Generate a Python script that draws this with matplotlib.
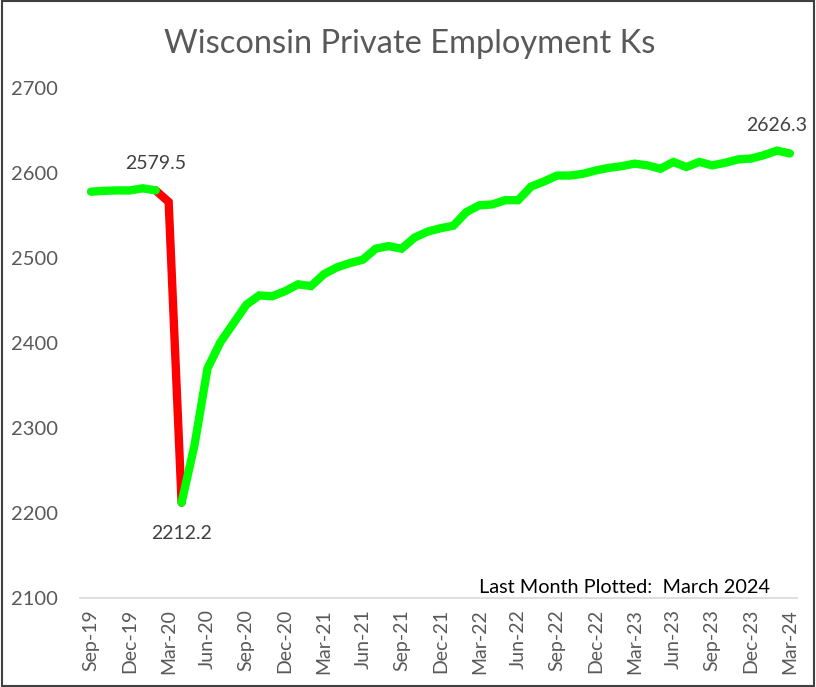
import matplotlib.pyplot as plt
from matplotlib.patches import Rectangle

# Monthly private employment (thousands), Sep-2019 .. Mar-2024
months = ['Sep-19', 'Oct-19', 'Nov-19', 'Dec-19', 'Jan-20', 'Feb-20', 'Mar-20', 'Apr-20',
          'May-20', 'Jun-20', 'Jul-20', 'Aug-20', 'Sep-20', 'Oct-20', 'Nov-20', 'Dec-20',
          'Jan-21', 'Feb-21', 'Mar-21', 'Apr-21', 'May-21', 'Jun-21', 'Jul-21', 'Aug-21',
          'Sep-21', 'Oct-21', 'Nov-21', 'Dec-21', 'Jan-22', 'Feb-22', 'Mar-22', 'Apr-22',
          'May-22', 'Jun-22', 'Jul-22', 'Aug-22', 'Sep-22', 'Oct-22', 'Nov-22', 'Dec-22',
          'Jan-23', 'Feb-23', 'Mar-23', 'Apr-23', 'May-23', 'Jun-23', 'Jul-23', 'Aug-23',
          'Sep-23', 'Oct-23', 'Nov-23', 'Dec-23', 'Jan-24', 'Feb-24', 'Mar-24']
employment = [2578, 2579, 2579.5, 2579.5, 2582, 2579.5, 2566, 2212.2,
              2280, 2370, 2401, 2423, 2445, 2456, 2455, 2461,
              2469, 2467, 2481, 2489, 2494, 2498, 2511, 2514,
              2511, 2524, 2531, 2535, 2538, 2554, 2562, 2563,
              2568, 2568, 2584, 2590, 2597, 2597, 2599, 2603,
              2606, 2608, 2611, 2609, 2605, 2613, 2607, 2613,
              2609, 2612, 2616, 2617, 2621, 2626.3, 2623]

# Covid drop highlighted in red (Feb-20 -> Apr-20)
drop_start = 5
drop_end = 7

tick_idx = list(range(0, len(months), 3))
yticks = [2100, 2200, 2300, 2400, 2500, 2600, 2700]

plt.rcParams['font.family'] = ['Lato', 'DejaVu Sans']

fig = plt.figure(figsize=(8.16, 6.87), dpi=100)
ax = fig.add_axes([80 / 816, 1 - 598 / 687, 717 / 816, 510 / 687])

x = list(range(len(months)))

# red segment first, green on top
ax.plot(x[drop_start:drop_end + 1], employment[drop_start:drop_end + 1],
        color='#FF0000', lw=6, solid_capstyle='round', solid_joinstyle='miter', zorder=2)
ax.plot(x[:drop_start + 1], employment[:drop_start + 1],
        color='#00FF00', lw=6, solid_capstyle='round', solid_joinstyle='miter', zorder=3)
ax.plot(x[drop_end:], employment[drop_end:],
        color='#00FF00', lw=6, solid_capstyle='round', solid_joinstyle='miter', zorder=3)

# data labels
ax.annotate(f'{employment[5]:.1f}', (x[5], employment[5]), xytext=(0, 13),
            textcoords='offset points', ha='center', va='bottom', fontsize=14, color='#404040')
ax.annotate(f'{employment[7]:.1f}', (x[7], employment[7]), xytext=(0, -16),
            textcoords='offset points', ha='center', va='top', fontsize=14, color='#404040')
ax.annotate(f'{employment[53]:.1f}', (x[53], employment[53]), xytext=(0, 12),
            textcoords='offset points', ha='center', va='bottom', fontsize=14, color='#404040')

ax.set_xlim(-0.85, 54.55)
ax.set_ylim(2100, 2700)
ax.set_yticks(yticks)
ax.set_yticklabels([str(v) for v in yticks], fontsize=14.5, color='#595959')
ax.set_xticks(tick_idx)
ax.set_xticklabels([months[i] for i in tick_idx], rotation=90, fontsize=14, color='#595959')
ax.tick_params(axis='y', length=0, pad=16)
ax.tick_params(axis='x', length=0, pad=8)

for s in ['top', 'right', 'left']:
    ax.spines[s].set_visible(False)
ax.spines['bottom'].set_color('#D9D9D9')
ax.spines['bottom'].set_linewidth(1.2)

ax.text(0.962, 0.003, 'Last Month Plotted:  March 2024', transform=ax.transAxes,
        ha='right', va='bottom', fontsize=14.3, color='black')

fig.text(410 / 816, 1 - 44 / 687, 'Wisconsin Private Employment Ks', ha='center', va='center',
         fontsize=23.5, color='#595959')

# chart border
fig.patches.append(Rectangle((0.002, 0.002), 0.996, 0.996, transform=fig.transFigure,
                             fill=False, edgecolor='#404040', lw=1.5))

fig.savefig('out.png', dpi=100)
